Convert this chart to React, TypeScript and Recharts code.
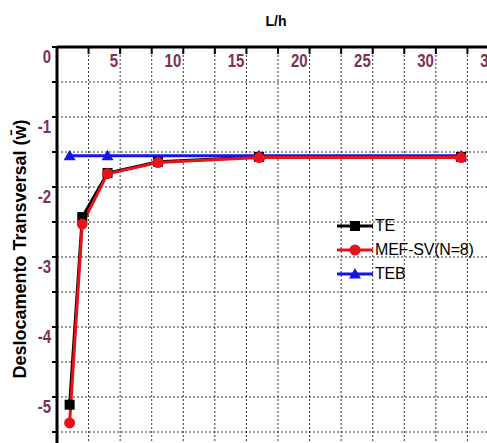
import React from "react";
import { LineChart, Line, XAxis, YAxis, CartesianGrid, Legend } from "recharts";

// L/h values and transverse displacement for each model
const lh = [1, 2, 4, 8, 16, 32];
const te = [-5.11, -2.43, -1.8, -1.64, -1.57, -1.57];
const mefSv = [-5.37, -2.53, -1.81, -1.65, -1.58, -1.58];
const tebLh = [1, 4, 16, 32];
const teb = [-1.555, -1.555, -1.555, -1.555];

const xTicks = [0, 2.5, 5, 7.5, 10, 12.5, 15, 17.5, 20, 22.5, 25, 27.5, 30, 32.5, 35];
const yTicks = [0, -0.5, -1, -1.5, -2, -2.5, -3, -3.5, -4, -4.5, -5, -5.5, -6];
const legendOrder = ["TE", "MEF-SV(N=8)", "TEB"];

const teData = lh.map((x, i) => ({ x, y: te[i] }));
const mefData = lh.map((x, i) => ({ x, y: mefSv[i] }));
const tebData = tebLh.map((x, i) => ({ x, y: teb[i] }));

const TICK_COLOR = "#7a3152";
const FONT = "'Liberation Sans', Arial, sans-serif";

const BLACK = "#000000";
const RED = "#e8121a";
const BLUE = "#1515e6";

const XTick = (props: any) => {
  const { x, y, payload } = props;
  const v = payload.value;
  const showLabel = v > 0 && v % 5 === 0;
  return (
    <g>
      <line x1={x} y1={y} x2={x} y2={y + 7} stroke="#000" strokeWidth={2} />
      {showLabel && (
        <text
          transform={`translate(${x - 2},${y + 20}) scale(1,1.2)`}
          textAnchor="end"
          fill={TICK_COLOR}
          fontFamily={FONT}
          fontWeight="bold"
          fontSize={15}
        >
          {v}
        </text>
      )}
    </g>
  );
};

const YTick = (props: any) => {
  const { x, y, payload } = props;
  const v = payload.value;
  if (!Number.isInteger(v) || v < -5) return <g />;
  return (
    <text
      transform={`translate(${x - 1},${y + 16}) scale(1,1.2)`}
      textAnchor="end"
      fill={TICK_COLOR}
      fontFamily={FONT}
      fontWeight="bold"
      fontSize={15}
    >
      {v === 0 ? "0" : `-${Math.abs(v)}`}
    </text>
  );
};

const SquareDot = (props: any) => {
  const { cx, cy, index } = props;
  return <rect key={`sq-${index}`} x={cx - 5} y={cy - 5} width={10} height={10} fill={BLACK} />;
};

const CircleDot = (props: any) => {
  const { cx, cy, index } = props;
  return <circle key={`ci-${index}`} cx={cx} cy={cy} r={5.5} fill={RED} />;
};

const TriangleDot = (props: any) => {
  const { cx, cy, index } = props;
  return (
    <polygon key={`tr-${index}`} points={`${cx},${cy - 6} ${cx - 6},${cy + 4.5} ${cx + 6},${cy + 4.5}`} fill={BLUE} />
  );
};

const markerFor = (name: string, color: string) => {
  if (name === "TE") return <rect x={14} y={3} width={10} height={10} fill={color} />;
  if (name === "TEB") return <polygon points="19,2 13,12.5 25,12.5" fill={color} />;
  return <circle cx={19} cy={8} r={5.5} fill={color} />;
};

const LegendBox = (props: any) => {
  const items = [...(props.payload || [])].sort(
    (a: any, b: any) => legendOrder.indexOf(a.value) - legendOrder.indexOf(b.value)
  );
  return (
    <div style={{ fontFamily: FONT, fontSize: 16, color: "#000" }}>
      {items.map((p: any) => (
        <div key={p.value} style={{ display: "flex", alignItems: "center", height: 24, letterSpacing: -0.2 }}>
          <svg width={38} height={16} style={{ display: "block" }}>
            <line x1={1} y1={8} x2={37} y2={8} stroke={p.color} strokeWidth={3} />
            {markerFor(p.value, p.color)}
          </svg>
          <span style={{ marginLeft: 1 }}>{p.value}</span>
        </div>
      ))}
    </div>
  );
};

export default function App() {
  return (
    <div style={{ position: "fixed", left: 0, top: 0, width: 487, height: 443, overflow: "hidden", background: "#fff" }}>
      <LineChart width={510} height={480} margin={{ top: 0, right: 11, bottom: 13, left: 0 }}>
        <CartesianGrid stroke="#333" strokeDasharray="2 2" strokeWidth={1} />
        <XAxis
          type="number"
          dataKey="x"
          orientation="top"
          domain={[0, 35]}
          ticks={xTicks}
          height={47}
          tickSize={0}
          tickMargin={0}
          tickLine={false}
          axisLine={{ stroke: "#000", strokeWidth: 3 }}
          tick={<XTick />}
          interval={0}
          allowDataOverflow
          label={{
            content: () => (
              <text x={276} y={26} textAnchor="middle" fontFamily={FONT} fontWeight="bold" fontSize={14} fill="#000">
                L/h
              </text>
            ),
          }}
        />
        <YAxis
          type="number"
          dataKey="y"
          domain={[-6, 0]}
          ticks={yTicks}
          width={57}
          tickSize={5}
          tickMargin={0}
          tickLine={{ stroke: "#000", strokeWidth: 2 }}
          axisLine={{ stroke: "#000", strokeWidth: 3 }}
          tick={<YTick />}
          interval={0}
          allowDataOverflow
          label={{
            content: () => (
              <text
                x={0}
                y={0}
                transform="translate(26,249) rotate(-90)"
                textAnchor="middle"
                fontFamily={FONT}
                fontWeight="bold"
                fontSize={18}
                fill="#000"
              >
                Deslocamento Transversal (w&#772;)
              </text>
            ),
          }}
        />
        <Legend
          layout="vertical"
          align="center"
          verticalAlign="middle"
          content={<LegendBox />}
          wrapperStyle={{ position: "absolute", left: 336, top: 214, width: "auto" }}
        />
        <Line
          data={teData}
          dataKey="y"
          name="TE"
          stroke={BLACK}
          strokeWidth={3}
          dot={<SquareDot />}
          activeDot={false}
          isAnimationActive={false}
        />
        <Line
          data={tebData}
          dataKey="y"
          name="TEB"
          stroke={BLUE}
          strokeWidth={3}
          dot={<TriangleDot />}
          activeDot={false}
          isAnimationActive={false}
        />
        <Line
          data={mefData}
          dataKey="y"
          name="MEF-SV(N=8)"
          stroke={RED}
          strokeWidth={3}
          dot={<CircleDot />}
          activeDot={false}
          isAnimationActive={false}
        />
      </LineChart>
    </div>
  );
}
